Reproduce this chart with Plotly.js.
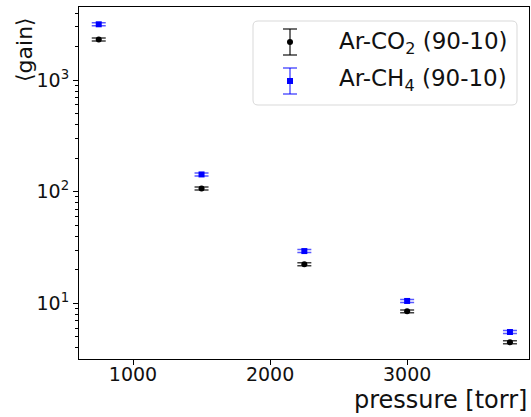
<!DOCTYPE html>
<html><head><meta charset="utf-8">
<script src="https://cdn.plot.ly/plotly-3.0.1.min.js"></script>
<style>html,body{margin:0;padding:0;background:#fff}#g{width:531px;height:417px}</style>
</head><body><div id="g"></div>
<script>
// data
const pressure = [750, 1500, 2250, 3000, 3750];
const gainCO2 = [2313, 107, 22.4, 8.48, 4.48];
const errCO2 = [70, 3.2, 0.7, 0.25, 0.13];
const gainCH4 = [3170, 143, 29.4, 10.5, 5.53];
const errCH4 = [95, 4.3, 0.9, 0.32, 0.17];
const seriesNames = ['Ar-CO<sub>2</sub> (90-10)', 'Ar-CH<sub>4</sub> (90-10)'];
const xTicks = [1000, 2000, 3000];
const yTicks = [10, 100, 1000];
const yTickText = ['10<sup>1</sup>', '10<sup>2</sup>', '10<sup>3</sup>'];
const yMinor = [4, 5, 6, 7, 8, 9, 20, 30, 40, 50, 60, 70, 80, 90, 200, 300, 400, 500, 600, 700, 800, 900, 2000, 3000, 4000];

const FONT = 'DejaVu Sans';
const L = 79, R = 529, T = 7, B = 359;
const W = R - L, H = B - T;
const px = X => (X - L) / W;
const py = Y => (B - Y) / H;
const yRange = [0.501, 3.656];

const traces = [
  {x: pressure, y: gainCO2, type: 'scatter', mode: 'markers', name: seriesNames[0],
   marker: {color: 'black', size: 6, symbol: 'circle'},
   error_y: {type: 'data', array: errCO2, visible: true, color: 'rgba(0,0,0,0.75)', thickness: 1.5, width: 7}},
  {x: pressure, y: gainCH4, type: 'scatter', mode: 'markers', name: seriesNames[1],
   marker: {color: 'blue', size: 6, symbol: 'square'},
   error_y: {type: 'data', array: errCH4, visible: true, color: 'rgba(0,0,255,0.65)', thickness: 1.5, width: 7}},
  // invisible carrier so the minor-tick axis is drawn
  {x: pressure, y: gainCO2, yaxis: 'y2', type: 'scatter', mode: 'markers', marker: {opacity: 0}, showlegend: false, hoverinfo: 'skip'}
];

// custom legend (box, symbols, text)
function rrect(x0, y0, x1, y1, r) {
  const rx = r / W, ry = r / H;
  const a = px(x0), b = px(x1), top = py(y0), bot = py(y1);
  return `M${a+rx},${top} L${b-rx},${top} Q${b},${top} ${b},${top-ry} L${b},${bot+ry} Q${b},${bot} ${b-rx},${bot} L${a+rx},${bot} Q${a},${bot} ${a},${bot+ry} L${a},${top-ry} Q${a},${top} ${a+rx},${top} Z`;
}
const shapes = [
  {type: 'path', xref: 'paper', yref: 'paper', path: rrect(253, 21, 517, 105, 5),
   line: {color: '#d9d9d9', width: 1}, fillcolor: 'rgba(255,255,255,0.85)', layer: 'above'}
];
function legendSym(X, y0, y1, ym, col, sym) {
  const lc = col === 'black' ? 'rgba(0,0,0,0.75)' : 'rgba(0,0,255,0.65)';
  shapes.push({type: 'line', xref: 'paper', yref: 'paper', x0: px(X), x1: px(X), y0: py(y0), y1: py(y1), line: {color: lc, width: 1.5}, layer: 'above'});
  shapes.push({type: 'line', xref: 'paper', yref: 'paper', x0: px(X - 7), x1: px(X + 7), y0: py(y0), y1: py(y0), line: {color: lc, width: 1.5}, layer: 'above'});
  shapes.push({type: 'line', xref: 'paper', yref: 'paper', x0: px(X - 7), x1: px(X + 7), y0: py(y1), y1: py(y1), line: {color: lc, width: 1.5}, layer: 'above'});
  shapes.push({type: sym, xref: 'paper', yref: 'paper', x0: px(X - 3), x1: px(X + 3), y0: py(ym - 3), y1: py(ym + 3), fillcolor: col, line: {color: col, width: 0}, layer: 'above'});
}
legendSym(290, 29, 55, 42, 'black', 'circle');
legendSym(290, 68, 94, 81, 'blue', 'rect');

const annotations = [
  {xref: 'paper', yref: 'paper', x: px(337), y: py(43), xanchor: 'left', yanchor: 'middle', showarrow: false,
   text: seriesNames[0], font: {family: FONT, size: 23, color: '#111'}},
  {xref: 'paper', yref: 'paper', x: px(337), y: py(80), xanchor: 'left', yanchor: 'middle', showarrow: false,
   text: seriesNames[1], font: {family: FONT, size: 23, color: '#111'}},
  {xref: 'paper', yref: 'paper', x: px(529), y: py(400), xanchor: 'right', yanchor: 'middle', showarrow: false,
   text: 'pressure [torr]', font: {family: FONT, size: 24, color: '#111'}},
  {xref: 'paper', yref: 'paper', x: px(25), y: py(45), xanchor: 'center', yanchor: 'middle', showarrow: false,
   yshift: -5, textangle: -90, text: '⟨gain⟩', font: {family: FONT, size: 22, color: '#111'}}
];

const layout = {
  width: 531, height: 417,
  margin: {l: L, r: 531 - R, t: T, b: 417 - B, pad: 0},
  paper_bgcolor: 'white', plot_bgcolor: 'white',
  showlegend: false,
  font: {family: FONT, size: 20, color: '#111'},
  xaxis: {range: [606, 3889], tickvals: xTicks, ticktext: xTicks.map(String),
    ticks: 'outside', ticklen: 5, tickcolor: 'black', showgrid: false, zeroline: false,
    showline: true, linecolor: 'black', linewidth: 1, mirror: true, ticklabelstandoff: -7,
    tickfont: {family: FONT, size: 19, color: '#111'}},
  yaxis: {type: 'log', range: yRange, tickmode: 'array', tickvals: yTicks, ticktext: yTickText,
    ticks: 'outside', ticklen: 5, tickcolor: 'black', showgrid: false, zeroline: false,
    showline: true, linecolor: 'black', linewidth: 1, mirror: true,
    tickfont: {family: FONT, size: 19, color: '#111'}},
  yaxis2: {type: 'log', range: yRange, overlaying: 'y', side: 'left', tickmode: 'array', tickvals: yMinor,
    showticklabels: false, ticks: 'outside', ticklen: 3, tickwidth: 1, tickcolor: 'black', showgrid: false,
    zeroline: false, showline: false},
  shapes: shapes,
  annotations: annotations
};
Plotly.newPlot('g', traces, layout, {staticPlot: true});
</script></body></html>
